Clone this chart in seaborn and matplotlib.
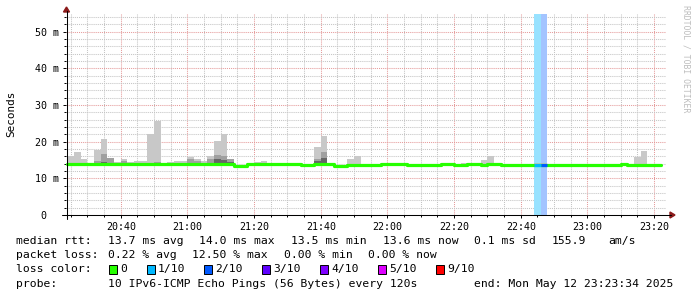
import numpy as np
import pandas as pd
import matplotlib
matplotlib.use("Agg")
import matplotlib.pyplot as plt
import seaborn as sns
from matplotlib.ticker import FixedLocator, MultipleLocator, NullFormatter
from matplotlib.patches import Rectangle, Polygon
from matplotlib.lines import Line2D

# ---------------- data ----------------
step_minutes = 2
first_bin_minute = 20 * 60 + 24          # 20:24, first 2-minute bin
view_start_minute = 20 * 60 + 23 + 34 / 60   # 20:23:34
view_end_minute = 23 * 60 + 23 + 34 / 60     # 23:23:34

median_rtt_ms = ([13.8] * 25 + [13.4, 13.4] + [13.8] * 8 + [13.5, 13.5] + [13.8] * 3 +
                 [13.4, 13.4] + [13.6] * 5 + [13.8] * 4 + [13.5] * 5 + [13.8, 13.8] +
                 [13.5, 13.5] + [13.8, 13.8] + [13.5] + [13.8, 13.8] + [13.5] * 5 +
                 [13.6, 13.6] + [13.6] * 11 + [14.0] + [13.6] * 5)

ping_max_ms = [16.2, 17.3, 15.3, 14.2, 17.8, 20.7, 15.6, 14.4, 15.3, 14.5,
               14.6, 14.6, 22.0, 25.6, 14.3, 14.4, 14.7, 14.7, 15.9, 15.3,
               14.7, 16.1, 20.2, 22.1, 15.3, 13.7, 13.7, 14.2, 14.5, 14.8,
               14.1, 14.1, 14.1, 14.1, 14.0, 13.8, 13.8, 18.5, 21.6, 14.1,
               13.7, 13.7, 15.4, 16.2, 14.0, 14.0, 14.0, 14.1, 14.1, 14.1,
               14.1, 13.9, 13.9, 13.9, 13.9, 13.9, 14.1, 14.1, 13.9, 14.3,
               14.1, 14.3, 15.0, 16.1, 14.1, 13.9, 13.9, 13.9, 13.9, 13.9,
               14.1, 14.3, 14.0, 14.0, 14.0, 14.0, 14.0, 14.0, 14.0, 14.0,
               14.0, 14.0, 14.0, 14.2, 14.0, 15.9, 17.5, 14.0, 14.0]

# inner (medium-grey) and core (dark-grey) smoke tops, only where visible
ping_mid_ms = {4: 14.8, 5: 16.6, 6: 15.6, 8: 14.6, 13: 14.5, 18: 15.2, 19: 14.8,
               21: 15.2, 22: 16.4, 23: 16.1, 24: 15.3, 37: 15.3, 38: 17.1}
ping_core_ms = {5: 14.5, 21: 14.2, 22: 15.2, 23: 15.0, 24: 14.5, 37: 14.6, 38: 15.6}

loss_tenths = [0] * 89
loss_tenths[70] = 1
loss_tenths[71] = 2

loss_labels = ["0", "1/10", "2/10", "3/10", "4/10", "5/10", "9/10"]
loss_colors = ["#26ff00", "#00b8ff", "#0059ff", "#5e00ff", "#7e00ff", "#dd00ff", "#ff0000"]
loss_bg_colors = {1: "#98e2ff", 2: "#a3c4ff"}

y_tick_values = [0, 10, 20, 30, 40, 50]
y_tick_labels = ["0\u00a0\u00a0", "10 m", "20 m", "30 m", "40 m", "50 m"]
x_tick_labels = ["20:40", "21:00", "21:20", "21:40", "22:00", "22:20", "22:40", "23:00", "23:20"]

legend_rtt = ["median rtt:", "13.7 ms avg", "14.0 ms max", "13.5 ms min", "13.6 ms now",
              "0.1 ms sd", "155.9", "am/s"]
legend_loss = ["packet loss:", "0.22 % avg", "12.50 % max", "0.00 % min", "0.00 % now"]
legend_probe = ["probe:", "10 IPv6-ICMP Echo Pings (56 Bytes) every 120s",
                "end: Mon May 12 23:23:34 2025"]

# ---------------- figure ----------------
W, H = 697, 297
sns.set_theme(style="white")
plt.rcParams["font.family"] = ["DejaVu Sans Mono", "DejaVu Sans"]

fig = plt.figure(figsize=(W / 100, H / 100), dpi=100)
fig.patch.set_facecolor("white")
ax = fig.add_axes([66 / W, 82 / H, 600 / W, 201 / H])
ax.set_facecolor("white")

n = len(median_rtt_ms)
bin_start = first_bin_minute + step_minutes * np.arange(n)
df = pd.DataFrame({"t": bin_start, "median": median_rtt_ms, "pmax": ping_max_ms,
                   "loss": loss_tenths})

# loss background
for i, row in df.iterrows():
    if row["loss"] > 0:
        ax.axvspan(row["t"], row["t"] + step_minutes, color=loss_bg_colors[int(row["loss"])],
                   lw=0, zorder=1)

# smoke
smoke_bottom = df["median"] - 0.3
ax.bar(df["t"], df["pmax"] - smoke_bottom, bottom=smoke_bottom, width=step_minutes,
       align="edge", color="#c8c8c8", lw=0, zorder=2)
mid_idx = sorted(ping_mid_ms)
ax.bar(bin_start[mid_idx], [ping_mid_ms[i] - smoke_bottom[i] for i in mid_idx],
       bottom=smoke_bottom[mid_idx], width=step_minutes, align="edge",
       color="#a0a0a0", lw=0, zorder=3)
core_idx = sorted(ping_core_ms)
ax.bar(bin_start[core_idx], [ping_core_ms[i] - smoke_bottom[i] for i in core_idx],
       bottom=smoke_bottom[core_idx], width=step_minutes, align="edge",
       color="#666666", lw=0, zorder=4)

# median line
t_edges = np.append(bin_start, bin_start[-1] + step_minutes)
med_edges = np.append(df["median"].values, df["median"].values[-1])
sns.lineplot(x=t_edges, y=med_edges, drawstyle="steps-post", color=loss_colors[0],
             lw=2.3, ax=ax, zorder=5, estimator=None, sort=False)
for i, row in df.iterrows():
    if row["loss"] > 0:
        ax.hlines(row["median"], row["t"], row["t"] + step_minutes,
                  color=loss_colors[int(row["loss"])], lw=2.3, zorder=6)

ax.set_xlim(view_start_minute, view_end_minute)
ax.set_ylim(0, 54.8)
for s in ax.spines.values():
    s.set_visible(False)

major_x = [20 * 60 + 40 + 20 * k for k in range(len(x_tick_labels))]
ax.xaxis.set_major_locator(FixedLocator(major_x))
ax.set_xticklabels(x_tick_labels)
ax.xaxis.set_minor_locator(MultipleLocator(5))
ax.yaxis.set_major_locator(FixedLocator(y_tick_values))
ax.set_yticklabels(y_tick_labels)
ax.yaxis.set_minor_locator(MultipleLocator(2))
ax.xaxis.set_minor_formatter(NullFormatter())
ax.yaxis.set_minor_formatter(NullFormatter())

ax.tick_params(which="major", length=2.2, width=0.7, color="black", labelsize=7.2,
               labelcolor="black", pad=2.5, direction="out")
ax.tick_params(which="minor", length=1.4, width=0.7, color="black", direction="out")
ax.tick_params(axis="x", which="both", bottom=True, top=False)
ax.tick_params(axis="y", which="both", left=True, right=False)

ax.grid(False)
ax.grid(which="minor", color="#c4c4c4", lw=0.75, linestyle=(0, (1, 1)), zorder=0)
ax.grid(which="major", color="#e59a9a", lw=0.75, linestyle=(0, (1, 1)), zorder=0)
ax.set_axisbelow(True)
ax.set_xlabel("")
ax.set_ylabel("")


def fx(px):
    return px / W


def fy(py):
    return 1 - py / H


# axis lines and arrows
fig.add_artist(Line2D([fx(62), fx(671)], [fy(215), fy(215)], color="black", lw=0.75))
fig.add_artist(Line2D([fx(66.5), fx(66.5)], [fy(219), fy(11)], color="black", lw=0.75))
fig.add_artist(Polygon([(fx(63.5), fy(12)), (fx(69.5), fy(12)), (fx(66.5), fy(7))],
                       closed=True, color="#8b1a1a", transform=fig.transFigure))
fig.add_artist(Polygon([(fx(670), fy(212)), (fx(670), fy(218)), (fx(675), fy(215))],
                       closed=True, color="#8b1a1a", transform=fig.transFigure))

# y label
fig.text(fx(11), fy(114), "Seconds", rotation=90, ha="center", va="center", size=7.9,
         color="black")

# watermark
fig.text(fx(686), fy(5), "RRDTOOL / TOBI OETIKER", rotation=-90, ha="center", va="top",
         size=5.9, color="#bdbdbd")

# legend lines (monospace columns)
leg_size = 8.2
char_px = 7.05
x0 = 16


def col_x(c):
    return x0 + c * char_px


for c, s in zip([0, 13, 26, 39, 52, 65, 76, 84], legend_rtt):
    fig.text(fx(col_x(c)), fy(241), s, ha="left", va="center", size=leg_size, color="black")
for c, s in zip([0, 13, 25, 38, 50], legend_loss):
    fig.text(fx(col_x(c)), fy(255), s, ha="left", va="center", size=leg_size, color="black")
fig.text(fx(x0), fy(269), "loss color:", ha="left", va="center", size=leg_size, color="black")
for x, lab, col in zip([109, 146.5, 204, 262, 320, 378, 436], loss_labels, loss_colors):
    fig.add_artist(Rectangle((fx(x), fy(273.5)), 8 / W, 9 / H, facecolor=col,
                             edgecolor="black", lw=0.7, transform=fig.transFigure))
    fig.text(fx(x + 11.5), fy(269), lab, ha="left", va="center", size=leg_size, color="black")
for c, s in zip([0, 13, 65], legend_probe):
    fig.text(fx(col_x(c)), fy(284), s, ha="left", va="center", size=leg_size, color="black")

fig.savefig("out.png", dpi=100, facecolor="white")
